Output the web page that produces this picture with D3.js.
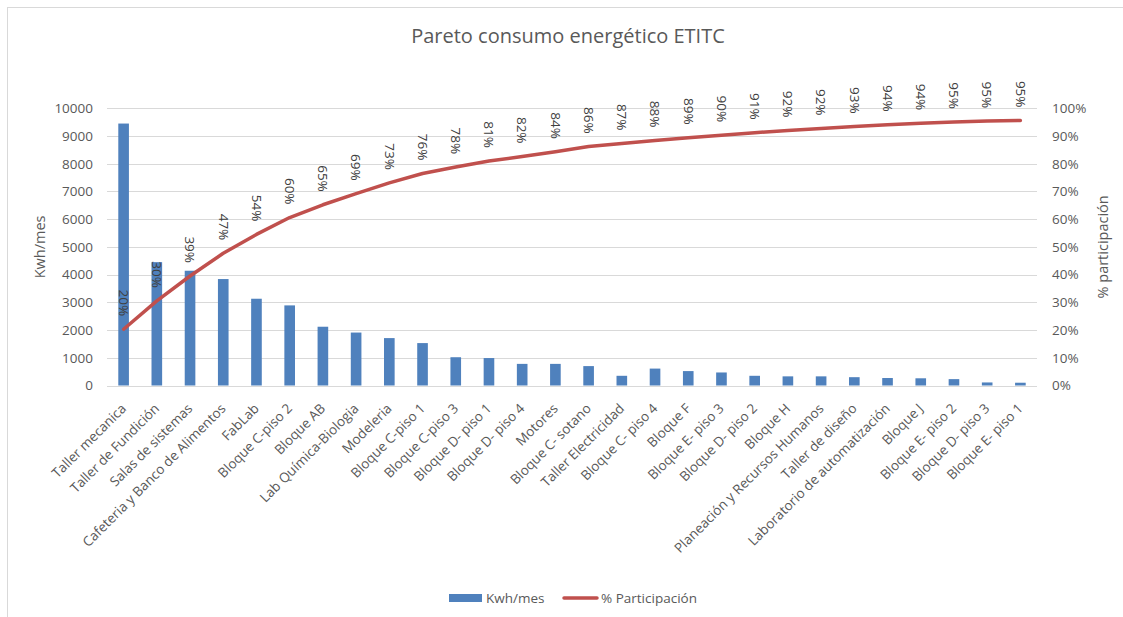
<!DOCTYPE html>
<html>
<head>
<meta charset="utf-8">
<script src="https://cdn.jsdelivr.net/npm/d3@7"></script>
<style>
  body { margin: 0; background: #fff; }
  text { font-family: "Open Sans", sans-serif; }
</style>
</head>
<body>
<svg id="chart" width="1123" height="617"></svg>
<script>
var categories = ['Taller mecanica', 'Taller de Fundición', 'Salas de sistemas', 'Cafeteria y Banco de Alimentos',
	'FabLab', 'Bloque C-piso 2', 'Bloque AB', 'Lab Química-Biologia', 'Modeleria', 'Bloque C-piso 1',
	'Bloque C-piso 3', 'Bloque D- piso 1', 'Bloque D- piso 4', 'Motores', 'Bloque C- sotano',
	'Taller Electricidad', 'Bloque C- piso 4', 'Bloque F', 'Bloque E- piso 3', 'Bloque D- piso 2',
	'Bloque H', 'Planeación y Recursos Humanos', 'Taller de diseño', 'Laboratorio de automatización',
	'Bloque J', 'Bloque E- piso 2', 'Bloque D- piso 3', 'Bloque E- piso 1'];

// kwh por mes
var kwh = [9450, 4450, 4140, 3840, 3130, 2890, 2120, 1910, 1710, 1530,
	1020, 990, 780, 780, 700, 350, 610, 520, 470, 350,
	330, 330, 300, 270, 260, 230, 110, 100];

// % participacion acumulado
var pct = [0.203, 0.305, 0.395, 0.477, 0.545, 0.606, 0.652, 0.692, 0.731, 0.765,
	0.788, 0.81, 0.826, 0.843, 0.862, 0.873, 0.884, 0.894, 0.903, 0.912,
	0.92, 0.927, 0.934, 0.941, 0.946, 0.951, 0.954, 0.956];

var kwhTicks = d3.range(0, 10001, 1000);
var pctTicks = d3.range(0, 11).map(function (d) { return d / 10; });

var svg = d3.select('#chart');
var GRAY = '#595959';

// chart frame
svg.append('rect').attr('x', 7.5).attr('y', 7.5).attr('width', 1130).attr('height', 620)
	.attr('fill', 'none').attr('stroke', '#d9d9d9');

var pLeft = 107, pRight = 1037, pTop = 108.3, pBottom = 385.5;

var x = d3.scaleBand().domain(categories).range([pLeft, pRight]).paddingInner(0.68).paddingOuter(0.34);
var y = d3.scaleLinear().domain([0, 10000]).range([pBottom, pTop]);
var y2 = d3.scaleLinear().domain([0, 1]).range([pBottom, pTop]);
var cx = function (d) { return x(d) + x.bandwidth() / 2; };

// grid
svg.append('g').selectAll('line').data(kwhTicks).enter().append('line')
	.attr('x1', pLeft).attr('x2', pRight)
	.attr('y1', function (d) { return Math.round(y(d)) + 0.5; })
	.attr('y2', function (d) { return Math.round(y(d)) + 0.5; })
	.attr('stroke', '#d9d9d9').attr('stroke-width', 1);

// axes
var yAxis = svg.append('g').attr('transform', 'translate(' + (pLeft - 14) + ',0)')
	.call(d3.axisLeft(y).tickValues(kwhTicks).tickSize(0).tickPadding(0).tickFormat(d3.format('d')));
var y2Axis = svg.append('g').attr('transform', 'translate(' + (pRight + 15) + ',0)')
	.call(d3.axisRight(y2).tickValues(pctTicks).tickSize(0).tickPadding(0).tickFormat(d3.format('.0%')));
[yAxis, y2Axis].forEach(function (a) {
	a.select('.domain').remove();
	a.selectAll('text').attr('fill', GRAY).style('font-size', '13.5px').style('font-family', '"Open Sans", sans-serif');
});

// bars
svg.append('g').selectAll('rect').data(categories).enter().append('rect')
	.attr('x', function (d) { return x(d); })
	.attr('width', x.bandwidth())
	.attr('y', function (d, i) { return y(kwh[i]); })
	.attr('height', function (d, i) { return pBottom - y(kwh[i]); })
	.attr('fill', '#4f81bd');

// line
var line = d3.line()
	.x(function (d) { return cx(d); })
	.y(function (d, i) { return y2(pct[i]); });
svg.append('path').datum(categories).attr('d', line)
	.attr('fill', 'none').attr('stroke', '#c0504d').attr('stroke-width', 3.5)
	.attr('stroke-linejoin', 'round').attr('stroke-linecap', 'round');

// data labels
svg.append('g').selectAll('text').data(categories).enter().append('text')
	.attr('transform', function (d, i) { return 'translate(' + cx(d) + ',' + (y2(pct[i]) - 13) + ') rotate(90)'; })
	.attr('text-anchor', 'end').attr('dy', '0.35em')
	.attr('fill', '#404040').style('font-size', '13.5px')
	.text(function (d, i) { return Math.floor(pct[i] * 100) + '%'; });

// x labels
svg.append('g').selectAll('text').data(categories).enter().append('text')
	.attr('transform', function (d) { return 'translate(' + cx(d) + ',406) rotate(-45)'; })
	.attr('text-anchor', 'end').attr('dy', '0.35em')
	.attr('fill', GRAY).style('font-size', '13.5px')
	.text(function (d) { return d; });

// titles
svg.append('text').attr('x', 568).attr('y', 43).attr('text-anchor', 'middle')
	.attr('fill', GRAY).style('font-size', '20px').text('Pareto consumo energético ETITC');
svg.append('text').attr('transform', 'translate(40,' + ((pTop + pBottom) / 2) + ') rotate(-90)')
	.attr('text-anchor', 'middle').attr('dy', '0.35em').attr('fill', GRAY).style('font-size', '14.5px').text('Kwh/mes');
svg.append('text').attr('transform', 'translate(1103,' + ((pTop + pBottom) / 2) + ') rotate(-90)')
	.attr('text-anchor', 'middle').attr('dy', '0.35em').attr('fill', GRAY).style('font-size', '14.5px').text('% participación');

// legend
var lg = svg.append('g');
lg.append('rect').attr('x', 449).attr('y', 594).attr('width', 33).attr('height', 8).attr('fill', '#4f81bd');
lg.append('text').attr('x', 486).attr('y', 598).attr('dy', '0.35em').attr('fill', GRAY).style('font-size', '13.5px').text('Kwh/mes');
lg.append('line').attr('x1', 564).attr('x2', 597).attr('y1', 598).attr('y2', 598)
	.attr('stroke', '#c0504d').attr('stroke-width', 3.5).attr('stroke-linecap', 'round');
lg.append('text').attr('x', 601).attr('y', 598).attr('dy', '0.35em').attr('fill', GRAY).style('font-size', '13.5px').text('% Participación');
</script>
</body>
</html>
